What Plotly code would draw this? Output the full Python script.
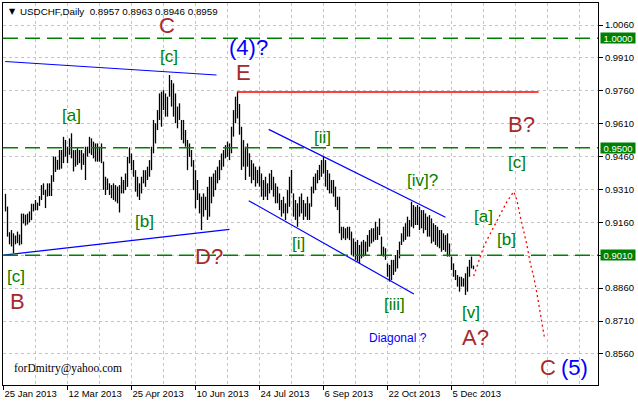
import plotly.graph_objects as go

# ---------------- data ----------------
tick_bars = [0, 32, 64, 96, 128, 160, 192, 224]
tick_labels = ["25 Jan 2013", "12 Mar 2013", "25 Apr 2013", "10 Jun 2013",
               "24 Jul 2013", "6 Sep 2013", "22 Oct 2013", "5 Dec 2013"]
grid_bars = list(range(0, 297, 16))

y_ticks = [1.0060, 0.9910, 0.9760, 0.9610, 0.9460, 0.9310, 0.9160, 0.9010, 0.8860, 0.8710, 0.8560]

high = [
    .9290, .9232, .9115, .9125, .9110, .9100, .9118, .9105, .9200, .9200,
    .9195, .9200, .9210, .9245, .9245, .9262, .9250, .9280, .9330, .9338,
    .9308, .9338, .9338, .9375, .9460, .9460, .9445, .9490, .9490, .9550,
    .9536, .9505, .9543, .9566, .9490, .9490, .9498, .9490, .9490, .9475,
    .9505, .9505, .9550, .9543, .9528, .9520, .9520, .9505, .9520, .9437,
    .9368, .9360, .9338, .9330, .9338, .9330, .9323, .9330, .9368, .9353,
    .9383, .9459, .9502, .9474, .9444, .9398, .9368, .9338, .9368, .9398,
    .9398, .9414, .9444, .9505, .9627, .9612, .9672, .9748, .9756, .9763,
    .9748, .9733, .9832, .9809, .9794, .9748, .9688, .9703, .9627, .9627,
    .9581, .9536, .9520, .9490, .9444, .9398, .9353, .9292, .9277, .9292,
    .9277, .9322, .9368, .9368, .9383, .9398, .9414, .9444, .9474, .9490,
    .9512, .9528, .9520, .9596, .9672, .9733, .9756, .9700, .9596, .9535,
    .9505, .9520, .9475, .9444, .9429, .9414, .9399, .9414, .9383, .9353,
    .9368, .9338, .9383, .9399, .9368, .9338, .9323, .9292, .9262, .9277,
    .9247, .9307, .9368, .9399, .9292, .9262, .9247, .9277, .9292, .9262,
    .9247, .9277, .9247, .9323, .9368, .9383, .9399, .9422, .9444, .9462,
    .9444, .9399, .9383, .9353, .9353, .9323, .9277, .9277, .9140, .9140,
    .9133, .9140, .9140, .9118, .9087, .9072, .9080, .9057, .9072, .9080,
    .9072, .9102, .9125, .9133, .9133, .9163, .9140, .9178, .9095, .9049,
    .9042, .8973, .8966, .8989, .8989, .9011, .9034, .9072, .9110, .9140,
    .9156, .9186, .9171, .9254, .9239, .9231, .9239, .9231, .9216, .9216,
    .9201, .9186, .9193, .9178, .9156, .9148, .9140, .9125, .9125, .9110,
    .9102, .9110, .9064, .9004, .8973, .8943, .8920, .8912, .8912, .8905,
    .8928, .8958, .8989, .9004, .8963,
]
low = [
    .9210, .9095, .9060, .9050, .9020, .9060, .9065, .9055, .9060, .9155,
    .9145, .9150, .9160, .9170, .9210, .9215, .9215, .9235, .9262, .9285,
    .9225, .9278, .9280, .9280, .9345, .9390, .9400, .9400, .9405, .9430,
    .9460, .9430, .9468, .9452, .9392, .9414, .9422, .9430, .9400, .9422,
    .9353, .9460, .9475, .9467, .9452, .9437, .9437, .9437, .9430, .9308,
    .9285, .9308, .9285, .9270, .9262, .9255, .9247, .9205, .9292, .9292,
    .9307, .9322, .9429, .9398, .9368, .9300, .9277, .9262, .9292, .9338,
    .9322, .9353, .9368, .9398, .9475, .9520, .9581, .9627, .9596, .9672,
    .9642, .9642, .9733, .9688, .9642, .9612, .9589, .9627, .9536, .9520,
    .9505, .9398, .9459, .9414, .9307, .9224, .9262, .9201, .9125, .9186,
    .9216, .9171, .9186, .9247, .9277, .9307, .9338, .9353, .9398, .9414,
    .9452, .9459, .9444, .9475, .9551, .9612, .9634, .9560, .9399, .9414,
    .9353, .9414, .9368, .9338, .9353, .9323, .9338, .9323, .9277, .9262,
    .9277, .9262, .9292, .9307, .9277, .9247, .9247, .9216, .9186, .9201,
    .9171, .9201, .9231, .9292, .9186, .9171, .9140, .9186, .9201, .9171,
    .9186, .9171, .9171, .9231, .9292, .9307, .9338, .9353, .9368, .9383,
    .9323, .9307, .9292, .9292, .9277, .9231, .9216, .9110, .9079, .9087,
    .9079, .9087, .9079, .9012, .9004, .8989, .8981, .8973, .8996, .9004,
    .9011, .9026, .9049, .9064, .9072, .9080, .9080, .9102, .9011, .9004,
    .8989, .8912, .8890, .8897, .8920, .8935, .8950, .8996, .9057, .9072,
    .9080, .9095, .9095, .9140, .9133, .9148, .9148, .9125, .9133, .9110,
    .9125, .9095, .9095, .9064, .9072, .9057, .9049, .9042, .9026, .9034,
    .9026, .9004, .9004, .8943, .8912, .8897, .8867, .8844, .8867, .8867,
    .8829, .8844, .8912, .8950, .8946,
]
close = [
    .9225, .9105, .9090, .9070, .9085, .9080, .9095, .9090, .9185, .9170,
    .9180, .9165, .9195, .9230, .9225, .9250, .9235, .9270, .9315, .9300,
    .9290, .9325, .9300, .9360, .9440, .9420, .9430, .9470, .9450, .9520,
    .9480, .9495, .9530, .9470, .9420, .9470, .9440, .9475, .9425, .9460,
    .9480, .9495, .9530, .9485, .9510, .9460, .9500, .9455, .9440, .9320,
    .9340, .9320, .9300, .9310, .9280, .9300, .9260, .9320, .9350, .9310,
    .9370, .9440, .9450, .9420, .9380, .9320, .9300, .9325, .9355, .9360,
    .9385, .9370, .9430, .9490, .9600, .9590, .9660, .9700, .9720, .9700,
    .9680, .9725, .9760, .9720, .9690, .9650, .9660, .9640, .9560, .9570,
    .9530, .9470, .9480, .9430, .9330, .9300, .9270, .9230, .9250, .9210,
    .9260, .9300, .9340, .9300, .9360, .9330, .9400, .9420, .9450, .9430,
    .9500, .9470, .9510, .9580, .9650, .9700, .9660, .9590, .9450, .9500,
    .9380, .9450, .9400, .9370, .9400, .9350, .9380, .9340, .9300, .9330,
    .9290, .9320, .9370, .9320, .9290, .9300, .9260, .9240, .9220, .9230,
    .9220, .9290, .9350, .9310, .9220, .9200, .9230, .9250, .9220, .9240,
    .9200, .9250, .9230, .9300, .9340, .9320, .9380, .9400, .9420, .9400,
    .9350, .9380, .9310, .9330, .9300, .9250, .9240, .9120, .9110, .9100,
    .9120, .9100, .9110, .9040, .9060, .9020, .9050, .9040, .9060, .9030,
    .9050, .9090, .9110, .9090, .9120, .9100, .9130, .9110, .9030, .9020,
    .9000, .8930, .8950, .8920, .8970, .8960, .9020, .9060, .9090, .9120,
    .9100, .9170, .9150, .9220, .9170, .9200, .9180, .9210, .9150, .9190,
    .9150, .9170, .9120, .9140, .9090, .9120, .9070, .9100, .9050, .9080,
    .9050, .9040, .9010, .8960, .8930, .8910, .8890, .8880, .8900, .8880,
    .8910, .8950, .8940, .8957, .8959,
]
first_open = 0.9270
assert len(high) == len(low) == len(close) == 235
bars = list(range(1, len(high) + 1))
opens = [first_open] + close[:-1]

levels = [1.0000, 0.9500, 0.9010]
level_labels = ["1.0000", "0.9500", "0.9010"]

# trend lines (bar index, price)
blue_lines = [
    ([0.85, 106.5], [0.98936, 0.98320]),   # upper triangle
    ([0.0, 113.0], [0.9011, 0.9128]),      # lower triangle
    ([132.6, 221.0], [0.9584, 0.9183]),    # upper channel
    ([122.6, 205.2], [0.9259, 0.8833]),    # lower channel
]
red_line = ([116.9, 267.5], [0.9755, 0.9755])

fc_bar = [235.1, 237.6, 240.1, 242.6, 245.1, 248.5, 251.7, 255.1, 256.7, 258.4,
          260.1, 261.7, 263.4, 265.1, 266.7, 268.4, 270.4]
fc_price = [0.8915, 0.8981, 0.9049, 0.9095, 0.9140, 0.9194, 0.9254, 0.9300, 0.9262, 0.9186,
            0.9125, 0.9057, 0.8973, 0.8912, 0.8837, 0.8745, 0.8639]

GREEN = "#008000"
BROWN = "#A52A2A"
BLUE = "#0000FF"
# wave labels: text, px x, px y, colour, size
wave_labels = [
    ("C", 167, 26, BROWN, 22), ("[c]", 169, 56, GREEN, 17),
    ("(4)?", 248, 48, BLUE, 22), ("E", 243, 72, BROWN, 22),
    ("[a]", 71, 116, GREEN, 17), ("[b]", 144, 221, GREEN, 17),
    ("D?", 209, 256, BROWN, 22), ("[c]", 16, 276, GREEN, 17),
    ("B", 17, 301, BROWN, 22), ("[ii]", 322, 137, GREEN, 17),
    ("[i]", 298, 243, GREEN, 17), ("[iii]", 394, 304, GREEN, 17),
    ("[iv]?", 422, 180, GREEN, 17), ("[v]", 471, 312, GREEN, 17),
    ("A?", 476, 337, BROWN, 22), ("[a]", 483, 216, GREEN, 17),
    ("[b]", 506, 239, GREEN, 17), ("[c]", 517, 162, GREEN, 17),
    ("B?", 521, 125, BROWN, 22), ("C", 548, 367, BROWN, 22),
    ("(5)", 574, 367, BLUE, 22), ("Diagonal ?", 398, 338, BLUE, 12),
]

# ---------------- figure ----------------
W, H = 638, 404
ML, MR, MT, MB = 3, 40, 3, 19
PW, PH = W - ML - MR, H - MT - MB
X_RANGE = [-0.25, -0.25 + PW / 2.0]
Y_RANGE = [0.84184, 1.01603]


def px_x(px):
    return (px - ML) / PW


def px_y(py):
    return (H - MB - py) / PH


fig = go.Figure()
fig.add_trace(go.Ohlc(
    x=bars, open=opens, high=high, low=low, close=close,
    increasing=dict(line=dict(color="black", width=1.3)),
    decreasing=dict(line=dict(color="black", width=1.3)),
    tickwidth=0, hoverinfo="skip", showlegend=False,
))
for xs, ys in blue_lines:
    fig.add_trace(go.Scatter(x=xs, y=ys, mode="lines", line=dict(color=BLUE, width=1.2),
                             hoverinfo="skip", showlegend=False))
fig.add_trace(go.Scatter(x=red_line[0], y=red_line[1], mode="lines",
                         line=dict(color="#FF0000", width=1.5), hoverinfo="skip", showlegend=False))
fig.add_trace(go.Scatter(x=fc_bar, y=fc_price, mode="lines",
                         line=dict(color="#FF0000", width=1.3, dash="2px,3px"),
                         hoverinfo="skip", showlegend=False))

shapes = []
annotations = []
for lv, lab in zip(levels, level_labels):
    shapes.append(dict(type="line", xref="paper", x0=0, x1=1, yref="y", y0=lv, y1=lv,
                       line=dict(color=GREEN, width=1.5, dash="15px,7px"), layer="above"))
    annotations.append(dict(xref="paper", x=px_x(600), yref="y", y=lv, text=lab,
                            showarrow=False, xanchor="left", yanchor="middle",
                            bgcolor=GREEN, width=34, height=10, borderpad=0,
                            font=dict(family="Liberation Sans", size=9.5, color="white")))

for text, x, y, col, size in wave_labels:
    annotations.append(dict(xref="paper", yref="paper", x=px_x(x), y=px_y(y), text=text,
                            showarrow=False, xanchor="center", yanchor="middle",
                            font=dict(family="Liberation Sans", size=size, color=col)))

annotations.append(dict(xref="paper", yref="paper", x=px_x(7), y=px_y(11), text="▼",
                        showarrow=False, xanchor="left", yanchor="middle",
                        font=dict(family="DejaVu Sans", size=8, color="black")))
annotations.append(dict(xref="paper", yref="paper", x=px_x(18), y=px_y(11),
                        text="USDCHF,Daily  0.8957 0.8963 0.8946 0.8959",
                        showarrow=False, xanchor="left", yanchor="middle",
                        font=dict(family="Liberation Sans", size=9.8, color="black")))
annotations.append(dict(xref="paper", yref="paper", x=px_x(12), y=px_y(368),
                        text="forDmitry@yahoo.com", showarrow=False, xanchor="left",
                        yanchor="middle",
                        font=dict(family="Liberation Serif", size=11.5, color="black")))

GRID = "#c4c4c4"
fig.update_layout(
    width=W, height=H, autosize=False,
    margin=dict(l=ML, r=MR, t=MT, b=MB, pad=0),
    paper_bgcolor="white", plot_bgcolor="white",
    showlegend=False, shapes=shapes, annotations=annotations,
    xaxis=dict(range=X_RANGE, showline=True, linecolor="black", linewidth=1, mirror=True,
               ticks="outside", ticklen=4, tickcolor="black",
               tickvals=tick_bars, ticktext=tick_labels, ticklabelposition="outside right",
               tickfont=dict(family="Liberation Sans", size=9.5, color="black"),
               showgrid=True, gridcolor=GRID, griddash="3px,3px", gridwidth=1,
               minor=dict(tickvals=grid_bars, showgrid=True, gridcolor=GRID,
                          griddash="3px,3px", gridwidth=1, ticks=""),
               zeroline=False, rangeslider=dict(visible=False), fixedrange=True,
               automargin=False),
    yaxis=dict(range=Y_RANGE, side="right", showline=True, linecolor="black", linewidth=1,
               mirror=True, ticks="outside", ticklen=4, tickcolor="black",
               tickvals=y_ticks, ticktext=[f"{v:.4f}" for v in y_ticks],
               tickfont=dict(family="Liberation Sans", size=9.5, color="black"),
               showgrid=True, gridcolor=GRID, griddash="3px,3px", gridwidth=1,
               zeroline=False, fixedrange=True, automargin=False),
)

fig.write_html("out.html", config={"displayModeBar": False},
               post_script="document.body.style.margin='0px';document.body.style.padding='0px';")
